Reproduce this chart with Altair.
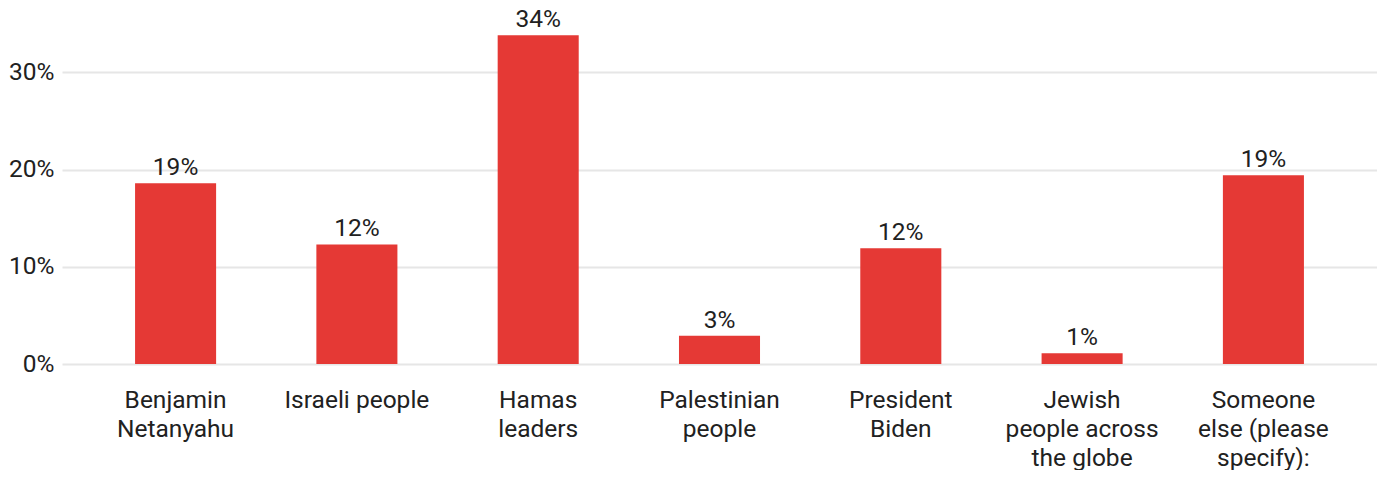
import altair as alt
import pandas as pd

categories = [
    "Benjamin|Netanyahu",
    "Israeli people",
    "Hamas|leaders",
    "Palestinian|people",
    "President|Biden",
    "Jewish|people across|the globe",
    "Someone|else (please|specify):",
]
values = [0.186, 0.123, 0.338, 0.029, 0.119, 0.011, 0.194]

df = pd.DataFrame({"cat": categories, "val": values})

FONT = "Roboto"
TXT = "#212121"
FS = 24.5

x = alt.X(
    "cat:N",
    sort=None,
    title=None,
    scale=alt.Scale(paddingInner=0.553, paddingOuter=0.403),
    axis=alt.Axis(
        labelAngle=0,
        labelExpr="split(datum.label, '|')",
        labelFontSize=FS,
        labelFont=FONT,
        labelColor=TXT,
        labelLineHeight=29,
        labelPadding=24,
        labelBaseline="top",
        ticks=False,
        domain=False,
        grid=False,
        labelLimit=300,
    ),
)

y = alt.Y(
    "val:Q",
    title=None,
    scale=alt.Scale(domain=[0, 0.362], nice=False),
    axis=alt.Axis(
        values=[0, 0.1, 0.2, 0.3],
        format=".0%",
        labelFontSize=FS,
        labelFont=FONT,
        labelColor=TXT,
        labelPadding=8,
        ticks=False,
        domain=False,
        gridColor="#e6e6e6",
        gridWidth=2,
    ),
)

bars = alt.Chart(df).mark_bar(color="#e53935").encode(x=x, y=y)
labels = alt.Chart(df).mark_text(
    baseline="bottom", dy=-3, fontSize=FS, font=FONT, color=TXT
).encode(x=x, y=y, text=alt.Text("val:Q", format=".0%"))

chart = (
    (bars + labels)
    .properties(
        width=1369,
        height=462,
        padding={"top": 4, "bottom": 0, "left": 0, "right": 0},
        autosize=alt.AutoSizeParams(type="fit", contains="padding"),
    )
    .configure_view(stroke=None)
)

chart.save("out.html", embed_options={"renderer": "svg", "actions": False})
